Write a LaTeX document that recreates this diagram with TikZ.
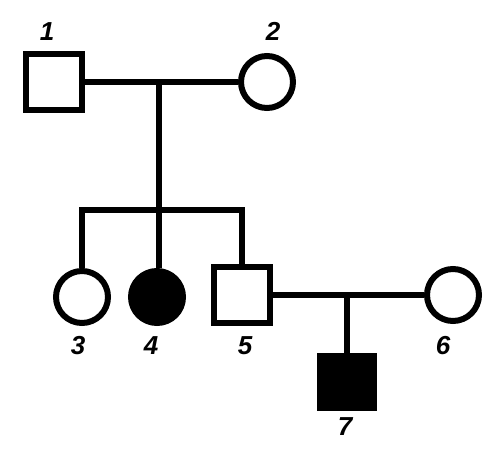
\documentclass[tikz,border=0pt]{standalone}
\usepackage{fontspec}
\setmainfont{Liberation Sans}
\begin{document}
\begin{tikzpicture}[x=1pt,y=-1pt,line width=6pt,line join=miter,
  male/.style={draw,rectangle,minimum width=56pt,minimum height=56pt,inner sep=0pt},
  female/.style={draw,circle,minimum size=52pt,inner sep=0pt},
  aff/.style={fill=black},
  lbl/.style={font=\fontsize{26}{26}\selectfont\bfseries\itshape,inner sep=0pt}]
\useasboundingbox (0,0) rectangle (497,449);
\node[male] (p1) at (54,82) {};
\node[female] (p2) at (267,82) {};
\node[female] (p3) at (82,297) {};
\node[female,aff] (p4) at (157,297) {};
\node[male] (p5) at (242,295) {};
\node[female] (p6) at (453,295) {};
\node[male,aff,minimum width=54pt,minimum height=52pt] (p7) at (347,382) {};
\coordinate (m1) at (159,82);
\coordinate (s1) at (159,210);
\coordinate (sL) at (82,210);
\coordinate (sR) at (242,210);
\coordinate (m2) at (347,295);
\draw (p1.east) -- (p2.west);
\draw (m1) -- (s1);
\draw (p3.north) -- (sL) -- (sR) -- (p5.north);
\draw (s1) -- (s1 |- p4.north);
\draw (p5.east) -- (p6.west);
\draw (m2) -- (p7.north);
\node[lbl] (l1) at (47,32) {1};
\node[lbl] (l2) at (273,31) {2};
\node[lbl] (l3) at (78,346) {3};
\node[lbl] (l4) at (151,346) {4};
\node[lbl] (l5) at (245,346) {5};
\node[lbl] (l6) at (443,346) {6};
\node[lbl] (l7) at (345,427) {7};
\end{tikzpicture}
\end{document}
